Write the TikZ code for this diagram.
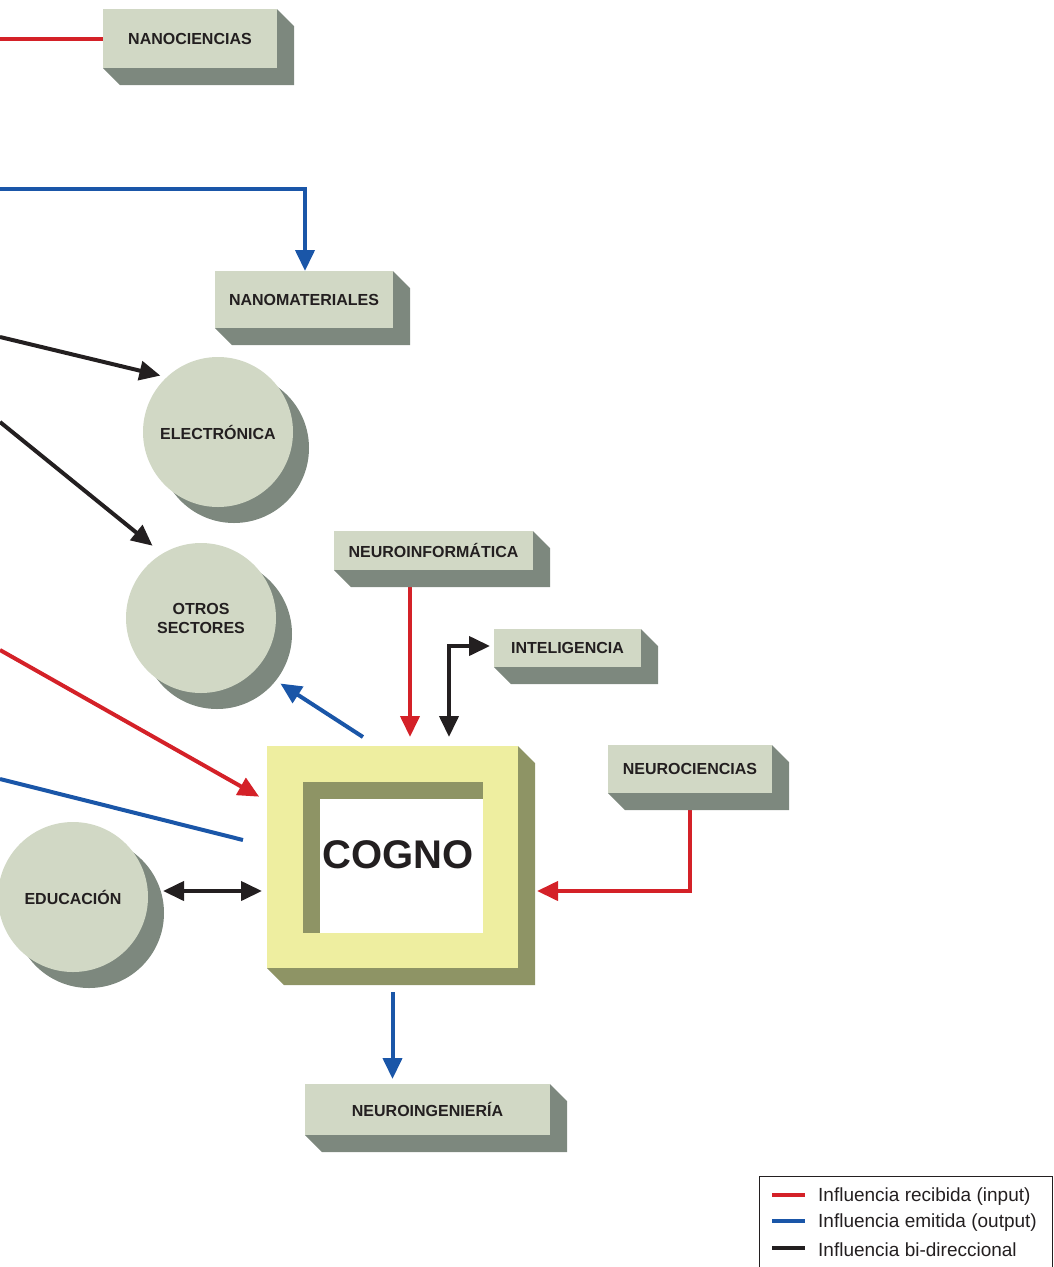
\documentclass[tikz,border=0pt]{standalone}
\usepackage{fontspec}
\setmainfont{Liberation Sans}
\usetikzlibrary{arrows.meta,shadows,calc}

\definecolor{cara}{RGB}{209,216,197}
\definecolor{sombra}{RGB}{125,136,126}
\definecolor{amarillo}{RGB}{238,238,160}
\definecolor{oliva}{RGB}{142,148,101}
\definecolor{rojo}{RGB}{212,33,40}
\definecolor{azul}{RGB}{26,86,168}
\definecolor{negro}{RGB}{35,31,32}

\tikzset{
  caja/.style={rectangle, fill=cara, inner sep=0pt, outer sep=0pt, text=negro,
    font=\fontsize{16}{19}\selectfont\bfseries},
  bola/.style={circle, fill=cara, minimum size=150pt, inner sep=0pt, outer sep=0pt,
    align=center, text=negro, font=\fontsize{16}{19}\selectfont\bfseries,
    general shadow={fill=sombra, shadow xshift=16pt, shadow yshift=-16pt}},
  entrada/.style={draw=rojo, line width=4pt},
  salida/.style={draw=azul, line width=4pt},
  bidir/.style={draw=negro, line width=4pt},
  >={Triangle[length=21pt,width=19pt]}
}

\begin{document}
\begin{tikzpicture}[x=1pt, y=-1pt]
    \useasboundingbox (0,0) rectangle (1054,1267);

    % boxes and circles
    \node[caja, minimum width=174pt, minimum height=59pt] (nanoc) at (190,38.5) {NANOCIENCIAS};
    \node[caja, minimum width=178pt, minimum height=57pt] (nanom) at (304,299.5) {NANOMATERIALES};
    \node[bola] (electr) at (218,432) {ELECTRÓNICA};
    \node[bola] (otros) at (201,618) {OTROS\\SECTORES};
    \node[bola] (educ) at (73,897) {EDUCACIÓN};
    \node[caja, minimum width=199pt, minimum height=39pt] (neuroinf) at (433.5,550.5) {NEUROINFORMÁTICA};
    \node[caja, minimum width=147pt, minimum height=38pt] (intel) at (567.5,648) {INTELIGENCIA};
    \node[caja, minimum width=164pt, minimum height=48pt] (neuroc) at (690,769) {NEUROCIENCIAS};
    \node[caja, minimum width=245pt, minimum height=51pt] (neuroing) at (427.5,1109.5) {NEUROINGENIERÍA};

    % central block
    \node[caja, fill=amarillo, minimum width=251pt, minimum height=222pt] (cogno) at (392.5,857) {};
    \fill[oliva] (303,782) rectangle (483,933);
    \fill[white] (320,799) rectangle (483,933);
    \node[text=negro, font=\fontsize{40}{44}\selectfont\bfseries] (cognotxt) at (398,855) {COGNO};

    % free ends on the left margin
    \coordinate (r1) at (0,38.5);
    \coordinate (b1) at (0,189);
    \coordinate (n1) at (0,337);
    \coordinate (n2) at (0,422);
    \coordinate (r2) at (0,650);
    \coordinate (b2) at (0,779);

    % red = input, blue = output, black = both ways
    \draw[entrada] (r1) -- (nanoc.west);
    \draw[salida, ->] (b1) -| ([xshift=1pt]nanom.north);
    \draw[bidir, ->, shorten >=6.6pt] (n1) -- (electr.133.5);
    \draw[bidir, ->, shorten >=12.7pt] (n2) -- (otros.121.5);
    \draw[entrada, ->, shorten >=9pt] (r2) -- (cogno.156);
    \draw[salida, shorten <=24.8pt] (cogno.175.5) -- (b2);
    \draw[salida, ->, shorten <=16.6pt, shorten >=28.2pt] (cogno.98.5) -- (otros.-42.5);
    \draw[entrada, ->, shorten >=9pt] ([xshift=-23.5pt]neuroinf.south) -- ([xshift=-23.5pt]neuroinf.south |- cogno.north);
    \draw[bidir, <->, shorten <=4pt, shorten >=9pt] ([yshift=2pt]intel.west) -| ([xshift=56.5pt]cogno.north);
    \draw[bidir, <->, shorten <=15pt, shorten >=5pt] ([yshift=6pt]educ.east) -- ([yshift=6pt]educ.east -| cogno.west);
    \draw[entrada, ->, shorten >=19pt] (neuroc.south) |- ([yshift=-34pt]cogno.east);
    \draw[salida, ->, shorten <=24pt, shorten >=5pt] (cogno.south) -- (cogno.south |- neuroing.north);

    % extruded sides of the boxes
    \foreach \n in {nanoc,nanom,neuroinf,intel,neuroc,neuroing}
        \fill[sombra] (\n.north east) -- ++(17,17) |- ($(\n.south west)+(17,17)$) -- (\n.south west) -- (\n.south east) -- cycle;
    \fill[oliva] (cogno.north east) -- ++(17,17) |- ($(cogno.south west)+(17,17)$) -- (cogno.south west) -- (cogno.south east) -- cycle;

    % legend
    \draw[negro, line width=1pt] (759,1176) rectangle (1052,1290);
    \foreach \c/\t/\y [count=\i] in {rojo/{Influencia recibida (input)}/1195,
                                     azul/{Influencia emitida (output)}/1221,
                                     negro/{Influencia bi-direccional}/1248} {
        \draw[\c, line width=3.5pt] (772,\y) -- (805,\y);
        \node[anchor=west, inner sep=0pt, text=negro, font=\fontsize{19}{22}\selectfont] (ley\i) at (818,\y+1.5) {\t};
    }
\end{tikzpicture}
\end{document}
